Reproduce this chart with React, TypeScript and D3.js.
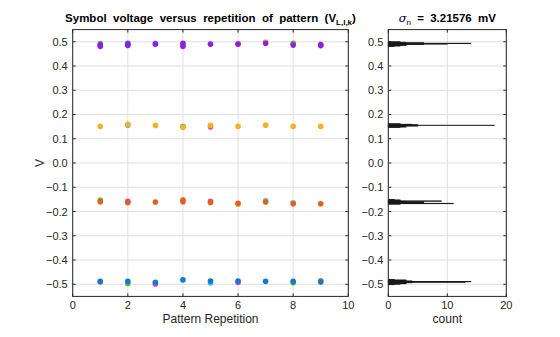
import React from "react";
import * as d3 from "d3";

// ---- data ----
const reps = [1, 2, 3, 4, 5, 6, 7, 8, 9];
const xTicks = [0, 2, 4, 6, 8, 10];
const yTicks = [-0.5, -0.4, -0.3, -0.2, -0.1, 0, 0.1, 0.2, 0.3, 0.4, 0.5];
const countTicks = [0, 10, 20];

// scatter series: [repetition, voltage]
const greenPts: [number, number][] = [
  [1, 0.492], [4, 0.486], [8, 0.494], [4, 0.150], [1, -0.154], [2, -0.497], [8, -0.494],
];
const cyanPts: [number, number][] = [
  [3, 0.494], [2, 0.156], [7, -0.156], [8, -0.164], [5, -0.495],
];
const pinkPts: [number, number][] = [
  [5, 0.149], [2, -0.158], [5, -0.158], [3, -0.499], [6, -0.493],
];
const yellowPts: [number, number][] = [
  [4, 0.483], [6, 0.494], [7, 0.499],
  [1, 0.151], [2, 0.160], [3, 0.155], [4, 0.147], [5, 0.155], [6, 0.151], [7, 0.156], [8, 0.151], [9, 0.151],
  [6, -0.170],
];
const orangePts: [number, number][] = [
  [1, -0.160], [2, -0.164], [3, -0.161], [4, -0.153], [4, -0.160], [5, -0.163], [6, -0.166], [7, -0.161], [8, -0.168], [9, -0.168],
  [1, -0.491], [9, -0.486],
];
const bluePts: [number, number][] = [
  [2, 0.494],
  [1, -0.488], [2, -0.488], [3, -0.492], [4, -0.482], [5, -0.487], [6, -0.487], [7, -0.488], [8, -0.488], [9, -0.491],
];
const purplePts: [number, number][] = [
  [1, 0.487], [1, 0.481], [2, 0.488], [2, 0.485], [3, 0.490], [4, 0.494], [4, 0.481],
  [5, 0.490], [6, 0.490], [7, 0.494], [8, 0.486], [9, 0.488], [9, 0.484],
];

// histogram: bin lower edges and counts (bin width 0.002 V)
const binWidth = 0.002;
const binStarts = [
  0.480, 0.482, 0.484, 0.486, 0.488, 0.490, 0.492, 0.494, 0.496, 0.498,
  0.146, 0.148, 0.150, 0.152, 0.154, 0.156, 0.158, 0.160,
  -0.170, -0.168, -0.166, -0.164, -0.162, -0.160, -0.158, -0.156, -0.154, -0.152,
  -0.502, -0.500, -0.498, -0.496, -0.494, -0.492, -0.490, -0.488, -0.486, -0.484, -0.482,
];
const binCounts = [
  1, 2, 3, 3, 6, 10, 14, 6, 3, 2,
  2, 3, 3, 5, 18, 5, 4, 2,
  2, 11, 3, 6, 6, 3, 9, 2, 2, 1,
  1, 2, 3, 3, 4, 13, 14, 4, 3, 3, 1,
];

const seriesList = [
  { pts: greenPts, color: "#5DB135" },
  { pts: cyanPts, color: "#3DC0E8" },
  { pts: pinkPts, color: "#E23FC3" },
  { pts: yellowPts, color: "#F4B223" },
  { pts: orangePts, color: "#E2601B" },
  { pts: bluePts, color: "#0E7BD0" },
  { pts: purplePts, color: "#8C1EE6" },
];

const FONT = "'Liberation Sans', Arial, Helvetica, sans-serif";
const AX = "#262626";
const GRID = "#dfdfdf";

export default function App() {
  const W = 560, H = 337;
  const top = 29.6, bottom = 296.4;
  const L = { x0: 72.7, x1: 348.3 };
  const R = { x0: 388.3, x1: 506.3 };

  const x = d3.scaleLinear().domain([0, 10]).range([L.x0, L.x1]);
  const y = d3.scaleLinear().domain([-0.55, 0.55]).range([bottom, top]);
  const xc = d3.scaleLinear().domain([0, 20]).range([R.x0, R.x1]);

  const tickLen = 3;

  const yAxis = (x0: number, x1: number) => (
    <g>
      {yTicks.map((t) => (
        <g key={t}>
          <line x1={x0} x2={x1} y1={y(t)} y2={y(t)} stroke={GRID} strokeWidth={1} />
          <line x1={x0} x2={x0 + tickLen} y1={y(t)} y2={y(t)} stroke={AX} />
          <line x1={x1} x2={x1 - tickLen} y1={y(t)} y2={y(t)} stroke={AX} />
          <text x={x0 - 5} y={y(t) + 4} textAnchor="end" fontSize={11} fill={AX} fontFamily={FONT}>
            {d3.format(".1f")(t)}
          </text>
        </g>
      ))}
    </g>
  );

  return (
    <svg width={W} height={H} style={{ position: "absolute", left: 0, top: 0, background: "#fff" }}>
      <rect width={W} height={H} fill="#fff" />
      {/* Left axes */}
      {yAxis(L.x0, L.x1)}
      {xTicks.map((t) => (
        <g key={t}>
          <line x1={x(t)} x2={x(t)} y1={top} y2={bottom} stroke={GRID} />
          <line x1={x(t)} x2={x(t)} y1={bottom} y2={bottom - tickLen} stroke={AX} />
          <line x1={x(t)} x2={x(t)} y1={top} y2={top + tickLen} stroke={AX} />
          <text x={x(t)} y={bottom + 13} textAnchor="middle" fontSize={11} fill={AX} fontFamily={FONT}>
            {t}
          </text>
        </g>
      ))}
      {seriesList.map((s, i) => (
        <g key={i}>
          {s.pts.map(([r, v], j) => (
            <circle key={j} cx={x(r)} cy={y(v)} r={2.8} fill={s.color} />
          ))}
        </g>
      ))}
      <rect x={L.x0} y={top} width={L.x1 - L.x0} height={bottom - top} fill="none" stroke={AX} strokeWidth={1} />
      <text x={(L.x0 + L.x1) / 2} y={22} textAnchor="middle" fontSize={11.5} fontWeight="bold" fill="#000" fontFamily={FONT} style={{ wordSpacing: "3.2px" }}>
        Symbol voltage versus repetition of pattern (V
        <tspan fontSize={8} dy={3}>L,l,k</tspan>
        <tspan dy={-3}>)</tspan>
      </text>
      <text x={(L.x0 + L.x1) / 2} y={323} textAnchor="middle" fontSize={12} fill={AX} fontFamily={FONT}>
        Pattern Repetition
      </text>
      <text transform={`translate(44, ${(top + bottom) / 2}) rotate(-90)`} textAnchor="middle" fontSize={12} fill={AX} fontFamily={FONT}>
        V
      </text>

      {/* Right axes */}
      {yAxis(R.x0, R.x1)}
      {countTicks.map((t) => (
        <g key={t}>
          <line x1={xc(t)} x2={xc(t)} y1={top} y2={bottom} stroke={GRID} />
          <line x1={xc(t)} x2={xc(t)} y1={bottom} y2={bottom - tickLen} stroke={AX} />
          <line x1={xc(t)} x2={xc(t)} y1={top} y2={top + tickLen} stroke={AX} />
          <text x={xc(t)} y={bottom + 13} textAnchor="middle" fontSize={11} fill={AX} fontFamily={FONT}>
            {t}
          </text>
        </g>
      ))}
      {binStarts.map((b, i) => (
        <rect
          key={i}
          x={xc(0)}
          y={y(b + binWidth)}
          width={xc(binCounts[i]) - xc(0)}
          height={y(b) - y(b + binWidth)}
          fill="#1a1a1a"
          stroke="#1a1a1a"
          strokeWidth={0.7}
        />
      ))}
      <rect x={R.x0} y={top} width={R.x1 - R.x0} height={bottom - top} fill="none" stroke={AX} strokeWidth={1} />
      <text x={(R.x0 + R.x1) / 2} y={22} textAnchor="middle" fontSize={11.5} fontWeight="bold" fill="#000" fontFamily={FONT} style={{ wordSpacing: "3px" }}>
        <tspan fontStyle="italic" fontFamily="'DejaVu Serif', serif" fontWeight="normal">σ</tspan>
        <tspan fontSize={8} dy={3} fontWeight="normal">n</tspan>
        <tspan dy={-3}> = 3.21576 mV</tspan>
      </text>
      <text x={(R.x0 + R.x1) / 2} y={323} textAnchor="middle" fontSize={12} fill={AX} fontFamily={FONT}>
        count
      </text>
    </svg>
  );
}
